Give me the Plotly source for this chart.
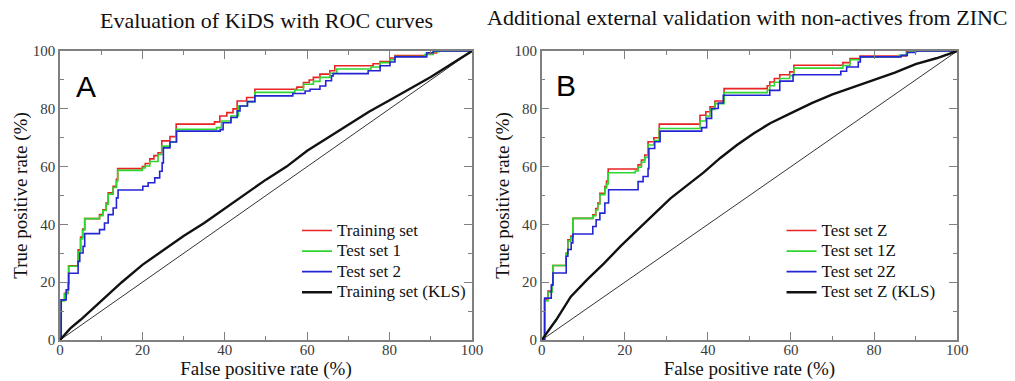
import plotly.graph_objects as go

# ---------------- data (percent) ----------------
diag = [0, 100]

# Panel A
fpr_train_a = [0, 0, 0.3, 1.1, 1.9, 2.1, 4.4, 5.0, 5.5, 6.0, 9.6, 10.4, 11.2, 11.7, 12.9, 13.7, 14.0, 20.0, 20.7, 21.8, 22.8, 23.8, 24.7, 26.7, 28.2, 37.5, 38.8, 40.5, 42.0, 43.0, 45.3, 47.3, 57.5, 59.1, 60.5, 61.5, 63.1, 65.5, 66.7, 76.0, 77.7, 80.1, 81.3, 89.0, 91.4, 100]
tpr_train_a = [0, 8, 13.9, 16.2, 19.7, 25.7, 31.2, 35.6, 38.4, 42.0, 43.4, 45.1, 47.4, 50.9, 53.2, 55.6, 59.3, 60.0, 61.1, 62.7, 63.8, 64.8, 68.9, 70.4, 74.7, 75.5, 77.5, 78.7, 80.0, 82.7, 83.9, 86.8, 87.5, 89.1, 90.0, 90.9, 92.0, 93.2, 94.9, 95.6, 96.4, 97.6, 98.4, 99.3, 100, 100]

fpr_test1_a = [0, 0.3, 1.1, 1.9, 2.1, 4.4, 5.0, 5.5, 6.0, 9.6, 10.4, 11.2, 11.7, 12.9, 13.7, 14.0, 20.0, 20.7, 21.8, 23.8, 24.7, 26.7, 28.2, 38.0, 39.2, 41.5, 43.3, 45.5, 47.3, 57.0, 59.1, 61.5, 63.1, 65.5, 67.2, 75.5, 77.7, 80.1, 81.3, 88.5, 90.6, 92.0, 100]
tpr_test1_a = [0, 13.5, 16.0, 19.5, 25.5, 30.5, 35.0, 38.0, 42.0, 43.0, 44.8, 47.0, 50.5, 52.8, 55.0, 58.7, 59.5, 60.2, 61.8, 64.2, 67.1, 68.5, 72.9, 73.5, 75.8, 77.5, 81.0, 82.5, 85.7, 86.5, 88.5, 89.5, 90.9, 92.3, 93.8, 94.5, 96.0, 97.0, 98.1, 98.8, 99.8, 100, 100]

fpr_test2_a = [0, 0.3, 1.5, 2.1, 4.4, 4.8, 5.6, 6.0, 9.6, 10.8, 11.7, 12.9, 13.7, 14.1, 20.1, 21.4, 23.0, 24.2, 24.8, 25.1, 26.7, 28.3, 38.9, 39.6, 41.5, 43.0, 43.7, 45.5, 47.3, 56.5, 59.5, 60.7, 63.1, 64.5, 65.9, 66.3, 74.8, 77.7, 80.1, 81.3, 89.0, 90.6, 100]
tpr_test2_a = [0, 13.9, 17.4, 23.1, 27.2, 30.1, 32.4, 36.8, 38.2, 40.5, 43.4, 45.7, 49.2, 51.9, 53.2, 54.4, 56.1, 58.4, 61.3, 66.5, 68.5, 72.3, 72.8, 75.2, 77.0, 79.3, 81.0, 82.5, 84.5, 85.3, 86.2, 86.8, 87.9, 89.7, 91.4, 92.2, 93.2, 94.9, 96.2, 98.0, 99.4, 100, 100]

fpr_kls_a = [0, 2.5, 5, 10, 15, 20, 25, 30, 35, 40, 45, 50, 55, 60, 65, 70, 75, 80, 85, 90, 95, 100]
tpr_kls_a = [0, 4, 7, 13.5, 20, 26, 31, 36, 40.5, 45.5, 50.5, 55.5, 60, 65.5, 70, 74.5, 79, 83, 87, 91, 95.5, 100]

# Panel B
fpr_z_b = [0, 0.7, 1.5, 2.5, 2.7, 5.9, 6.3, 7.0, 7.5, 12.3, 13.0, 13.5, 14.0, 15.2, 15.6, 16.0, 23.2, 24.0, 24.8, 25.6, 27.0, 28.3, 38.1, 39.5, 40.5, 41.7, 43.9, 54.3, 54.9, 56.0, 57.3, 59.7, 60.7, 72.5, 74.2, 76.6, 87.8, 88.5, 100]
tpr_z_b = [0, 14.0, 16.9, 19.2, 25.8, 30.1, 34.7, 36.0, 42.1, 43.3, 45.5, 47.4, 50.8, 53.1, 55.0, 59.2, 60.6, 62.3, 64.0, 68.6, 70.0, 74.7, 77.8, 79.0, 80.7, 82.7, 87.0, 88.0, 89.3, 90.5, 91.8, 92.8, 95.1, 96.0, 97.4, 98.3, 99.9, 100, 100]

fpr_1z_b = [0, 0.7, 1.5, 2.5, 2.7, 5.9, 6.3, 7.0, 7.5, 12.3, 13.0, 13.5, 14.0, 15.2, 15.6, 16.0, 22.5, 23.2, 24.0, 24.8, 25.6, 27.0, 28.3, 38.1, 39.5, 40.5, 41.7, 43.9, 54.3, 54.9, 56.0, 57.3, 59.7, 60.7, 72.5, 74.2, 76.6, 86.0, 87.8, 88.5, 100]
tpr_1z_b = [0, 13.5, 16.5, 19.0, 25.8, 30.0, 34.2, 35.5, 42.1, 43.0, 45.0, 47.0, 50.3, 52.5, 54.0, 57.9, 58.5, 59.8, 61.5, 63.2, 67.5, 69.0, 73.2, 75.8, 77.5, 79.8, 81.8, 85.6, 86.5, 88.0, 89.2, 90.5, 91.5, 94.1, 95.0, 97.0, 98.0, 98.5, 99.5, 100, 100]

fpr_2z_b = [0, 0.7, 2.3, 2.7, 5.9, 6.3, 7.1, 7.5, 12.3, 13.1, 14.0, 15.2, 16.1, 23.2, 24.4, 25.6, 25.8, 27.2, 28.5, 38.5, 39.7, 40.9, 42.5, 43.7, 54.9, 57.3, 60.5, 72.0, 73.4, 76.2, 76.7, 86.5, 88.0, 90.0, 100]
tpr_2z_b = [0, 14.5, 19.0, 23.2, 29.0, 31.3, 33.6, 36.7, 39.3, 41.6, 43.9, 47.4, 52.0, 54.8, 56.6, 59.3, 66.3, 68.6, 72.3, 73.5, 76.7, 80.1, 82.0, 84.7, 86.4, 89.6, 91.8, 93.0, 94.5, 96.2, 98.0, 98.5, 99.5, 100, 100]

fpr_kls_b = [0, 3.5, 7, 11, 15, 19, 23, 27, 31, 35, 39, 43, 47, 51, 55, 60, 65, 70, 75, 80, 85, 90, 95, 100]
tpr_kls_b = [0, 7, 15, 21, 26.5, 32.5, 38, 43.5, 49, 53.5, 58, 63, 67.5, 71.5, 75, 78.5, 82, 85, 87.5, 90, 92.5, 95.5, 97.5, 100]

names_a = ["Training set", "Test set 1", "Test set 2", "Training set (KLS)"]
names_b = ["Test set Z", "Test set 1Z", "Test set 2Z", "Test set Z (KLS)"]
titles = ["Evaluation of KiDS with ROC curves",
          "Additional external validation with non-actives from ZINC"]
panel_letters = ["A", "B"]
x_title = "False positive rate (%)"
y_title = "True positive rate (%)"
tick_values = [0, 20, 40, 60, 80, 100]

# ---------------- styling ----------------
SERIF = "Liberation Serif, Times New Roman, serif"
RED, GREEN, BLUE, BLACK = "#e82323", "#2fd62f", "#2424d4", "#111111"
FRAME = "#808080"

fig = go.Figure()

def add_panel(xa, ya, leg, curves, names):
    fig.add_trace(go.Scatter(x=diag, y=diag, mode="lines", showlegend=False,
                             line=dict(color="#333333", width=1),
                             xaxis=xa, yaxis=ya, hoverinfo="skip"))
    colors = [RED, GREEN, BLUE, BLACK]
    for i, ((xs, ys), nm) in enumerate(zip(curves, names)):
        is_kls = i == 3
        fig.add_trace(go.Scatter(
            x=xs, y=ys, mode="lines",
            name='<span style="font-size:17px">' + nm + '</span>', legend=leg,
            line=dict(color=colors[i], width=2.4 if is_kls else 1.6,
                      shape="linear" if is_kls else "hv"),
            xaxis=xa, yaxis=ya))

add_panel("x", "y", "legend",
          [(fpr_train_a, tpr_train_a), (fpr_test1_a, tpr_test1_a),
           (fpr_test2_a, tpr_test2_a), (fpr_kls_a, tpr_kls_a)], names_a)
add_panel("x2", "y2", "legend2",
          [(fpr_z_b, tpr_z_b), (fpr_1z_b, tpr_1z_b),
           (fpr_2z_b, tpr_2z_b), (fpr_kls_b, tpr_kls_b)], names_b)

def axis(domain, anchor, title, standoff, is_x):
    d = dict(
        domain=domain, anchor=anchor, range=[0, 100], tickvals=tick_values,
        ticks="inside", ticklen=8, tickwidth=1.2, tickcolor=FRAME,
        showline=True, linecolor=FRAME, linewidth=1.5, mirror="allticks",
        showgrid=False, zeroline=False, automargin=False,
        minor=dict(dtick=10, ticks="inside", ticklen=4, tickcolor=FRAME, tickwidth=1.2, showgrid=False),
        tickfont=dict(family=SERIF, size=15, color="#3a3a3a"),
        title=dict(text=title, font=dict(family=SERIF, size=19, color="#111111"), standoff=standoff),
    )
    if is_x:
        d["ticklabelstandoff"] = -5
    return d

ydom = [0.1076, 0.866]
legend_common = dict(yanchor="top", xanchor="left",
                     font=dict(family=SERIF, size=13.5, color="#111111"),
                     bgcolor="rgba(0,0,0,0)", tracegroupgap=0)
fig.update_layout(
    width=1015, height=381,
    margin=dict(l=0, r=0, t=0, b=0),
    paper_bgcolor="white", plot_bgcolor="white",
    xaxis=axis([0.0591, 0.465], "y", x_title, 4, True),
    yaxis=axis(ydom, "x", y_title, 0, False),
    xaxis2=axis([0.5337, 0.943], "y2", x_title, 4, True),
    yaxis2=axis(ydom, "x2", y_title, 0, False),
    legend=dict(x=0.2926, y=0.435, **legend_common),
    legend2=dict(x=0.770, y=0.435, **legend_common),
    showlegend=True,
)

fig.add_annotation(text=titles[0], x=0.263, y=0.9475, xref="paper", yref="paper",
                   xanchor="center", yanchor="middle", showarrow=False,
                   font=dict(family=SERIF, size=22, color="#111111"))
fig.add_annotation(text=titles[1], x=0.736, y=0.953, xref="paper", yref="paper",
                   xanchor="center", yanchor="middle", showarrow=False,
                   font=dict(family=SERIF, size=22, color="#111111"))
fig.add_annotation(text=panel_letters[0], x=0.0852, y=0.774, xref="paper", yref="paper",
                   xanchor="center", yanchor="middle", showarrow=False,
                   font=dict(family="Liberation Sans, Arial, sans-serif", size=30, color="#000000"))
fig.add_annotation(text=panel_letters[1], x=0.5576, y=0.7756, xref="paper", yref="paper",
                   xanchor="center", yanchor="middle", showarrow=False,
                   font=dict(family="Liberation Sans, Arial, sans-serif", size=30, color="#000000"))

fig.write_html("out.html")
